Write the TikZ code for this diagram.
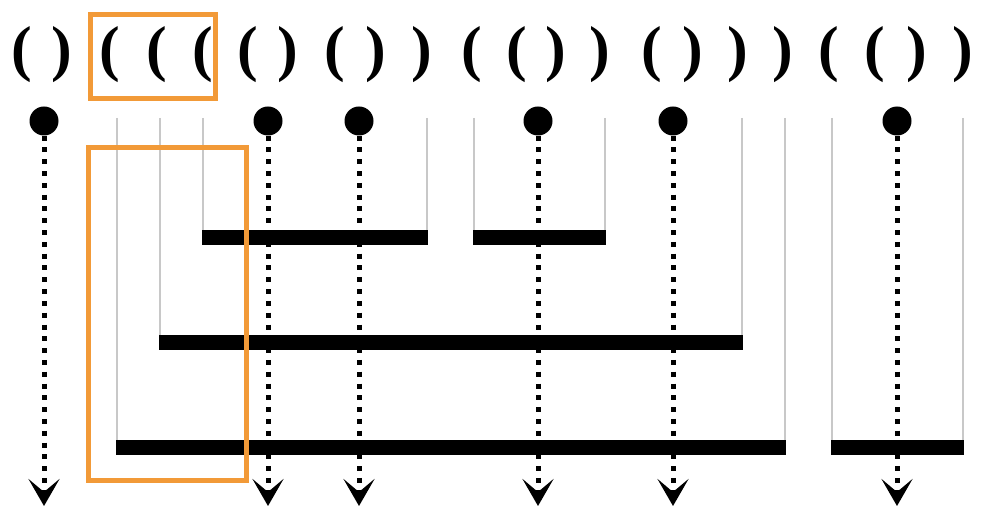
\documentclass[tikz,border=0pt]{standalone}
\usepackage{fontspec}
\usepackage{tikz}
\usetikzlibrary{arrows.meta}
\newfontfamily\bracketfont{Liberation Serif}
\definecolor{hilite}{HTML}{F29A38}
\definecolor{guide}{HTML}{C8C8C8}

\begin{document}
\begin{tikzpicture}[x=1pt,y=-1pt,>={Stealth[length=27pt,width=31pt,inset=13pt]},
par/.style={inner sep=0,font=\bracketfont\fontsize{62}{70}\selectfont\bfseries},
leaf/.style={circle,fill=black,inner sep=0,minimum size=29pt},
flow/.style={->,line width=5pt,dash pattern=on 5pt off 6.8pt},
rule/.style={guide,line width=1.8pt},
bar/.style={line width=15pt,shorten <=-1pt,shorten >=-1pt},
hl/.style={draw=hilite,line width=5pt}]
\useasboundingbox (0,0) rectangle (984,518);
% the bracket string
\node[par] (p1) at (22,55) {(};
\node[par] (p2) at (62,55) {)};
\node[par] (p3) at (110,55) {(};
\node[par] (p4) at (157,55) {(};
\node[par] (p5) at (203,55) {(};
\node[par] (p6) at (248,55) {(};
\node[par] (p7) at (288,55) {)};
\node[par] (p8) at (335,55) {(};
\node[par] (p9) at (376,55) {)};
\node[par] (p10) at (422,55) {)};
\node[par] (p11) at (472,55) {(};
\node[par] (p12) at (517,55) {(};
\node[par] (p13) at (556,55) {)};
\node[par] (p14) at (600,55) {)};
\node[par] (p15) at (652,55) {(};
\node[par] (p16) at (693,55) {)};
\node[par] (p17) at (738,55) {)};
\node[par] (p18) at (783,55) {)};
\node[par] (p19) at (829,55) {(};
\node[par] (p20) at (875,55) {(};
\node[par] (p21) at (917,55) {)};
\node[par] (p22) at (963,55) {)};
% guide lines down to the bars
\coordinate (g3) at (117,118); \coordinate (b3) at (117,447);
\coordinate (g4) at (160,118); \coordinate (b4) at (160,342);
\coordinate (g5) at (203,118); \coordinate (b5) at (203,238);
\coordinate (g10) at (427,118); \coordinate (b10) at (427,238);
\coordinate (g11) at (474,118); \coordinate (b11) at (474,238);
\coordinate (g14) at (605,118); \coordinate (b14) at (605,238);
\coordinate (g17) at (742,118); \coordinate (b17) at (742,342);
\coordinate (g18) at (785,118); \coordinate (b18) at (785,447);
\coordinate (g19) at (832,118); \coordinate (b19) at (832,447);
\coordinate (g22) at (963,118); \coordinate (b22) at (963,447);
\draw[rule] (g3)--(b3);
\draw[rule] (g4)--(b4);
\draw[rule] (g5)--(b5);
\draw[rule] (g10)--(b10);
\draw[rule] (g11)--(b11);
\draw[rule] (g14)--(b14);
\draw[rule] (g17)--(b17);
\draw[rule] (g18)--(b18);
\draw[rule] (g19)--(b19);
\draw[rule] (g22)--(b22);
\draw[bar] (b5)--(b10);
\draw[bar] (b11)--(b14);
\draw[bar] (b4)--(b17);
\draw[bar] (b3)--(b18);
\draw[bar] (b19)--(b22);
% leaves and their arrows
\node[leaf] (l1) at (44,121) {};
\node[leaf] (l2) at (268,121) {};
\node[leaf] (l3) at (359,121) {};
\node[leaf] (l4) at (538,121) {};
\node[leaf] (l5) at (673,121) {};
\node[leaf] (l6) at (897,121) {};
\coordinate (e1) at (44,506);
\coordinate (e2) at (268,506);
\coordinate (e3) at (359,506);
\coordinate (e4) at (538,506);
\coordinate (e5) at (673,506);
\coordinate (e6) at (897,506);
\draw[flow] (l1)--(e1);
\draw[flow] (l2)--(e2);
\draw[flow] (l3)--(e3);
\draw[flow] (l4)--(e4);
\draw[flow] (l5)--(e5);
\draw[flow] (l6)--(e6);
% highlights
\draw[hl] (90.5,15) rectangle (215.5,99);
\draw[hl] (88.5,147.5) rectangle (246.5,480.5);
\end{tikzpicture}
\end{document}
